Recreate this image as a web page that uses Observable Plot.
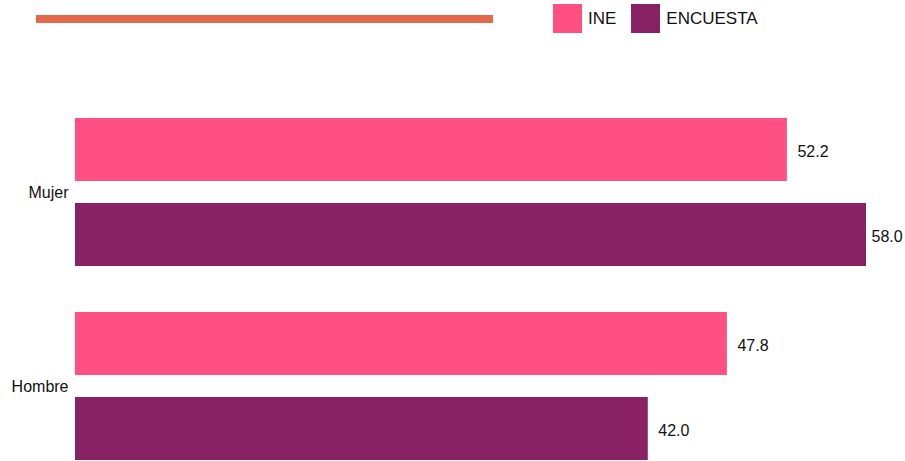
<!DOCTYPE html>
<html>
<head>
<meta charset="utf-8">
<script src="https://cdn.jsdelivr.net/npm/d3@7"></script>
<script src="https://cdn.jsdelivr.net/npm/@observablehq/plot@0.6"></script>
<style>
  body { margin: 0; background: #fff; font-family: "Liberation Sans", Arial, sans-serif; }
  #wrap { position: relative; width: 905px; height: 461px; overflow: hidden; }
  #rule { position: absolute; left: 36px; top: 15px; width: 457px; height: 8px; background: #e4684a; }
  #legend { position: absolute; left: 553px; top: 4px; display: flex; align-items: center; font-size: 17px; color: #111; }
  .sw { width: 29px; height: 29px; display: inline-block; }
  .item { display: flex; align-items: center; margin-right: 15px; }
  .item span.t { margin-left: 6px; }
  #chart { position: absolute; left: 0; top: 0; }
</style>
</head>
<body>
<div id="wrap">
  <div id="chart"></div>
  <div id="rule"></div>
  <div id="legend"></div>
</div>
<script>
const genders = ["Mujer", "Hombre"];
const series = ["INE", "ENCUESTA"];
const ine = [52.2, 47.8];
const encuesta = [58.0, 42.0];
const colors = ["#ff5083", "#892265"];

const data = genders.flatMap((g, i) => [
  {gender: g, series: series[0], value: ine[i]},
  {gender: g, series: series[1], value: encuesta[i]}
]);
const maxV = d3.max(data, d => d.value);

const legend = document.getElementById("legend");
series.forEach((s, i) => {
  const it = document.createElement("div");
  it.className = "item";
  it.innerHTML = `<span class="sw" style="background:${colors[i]}"></span><span class="t">${s}</span>`;
  legend.appendChild(it);
});

const labelOpts = {x: "value", y: "series", fy: "gender", text: d => d.value.toFixed(1), textAnchor: "start", fill: "#111", fontSize: 16};

const chart = Plot.plot({
  width: 905,
  height: 461,
  marginTop: 118,
  marginBottom: 0,
  marginLeft: 75,
  marginRight: 39,
  style: {fontFamily: "'Liberation Sans', Arial, sans-serif", fontSize: "16px", color: "#111"},
  x: {domain: [0, 58], axis: null},
  y: {domain: series, paddingInner: 0.26, paddingOuter: 0, axis: null},
  fy: {domain: genders, paddingInner: 0.236, paddingOuter: 0, label: null},
  color: {domain: series, range: colors},
  marks: [
    Plot.barX(data, {x: "value", y: "series", fy: "gender", fill: "series"}),
    Plot.text(data.filter(d => d.value < maxV), {...labelOpts, dx: 10, dy: 2}),
    Plot.text(data.filter(d => d.value === maxV), {...labelOpts, dx: 5, dy: 2}),
    Plot.axisFy({anchor: "left", tickSize: 0, tickPadding: 7, fontSize: 16, label: null})
  ]
});
document.getElementById("chart").appendChild(chart);
</script>
</body>
</html>
